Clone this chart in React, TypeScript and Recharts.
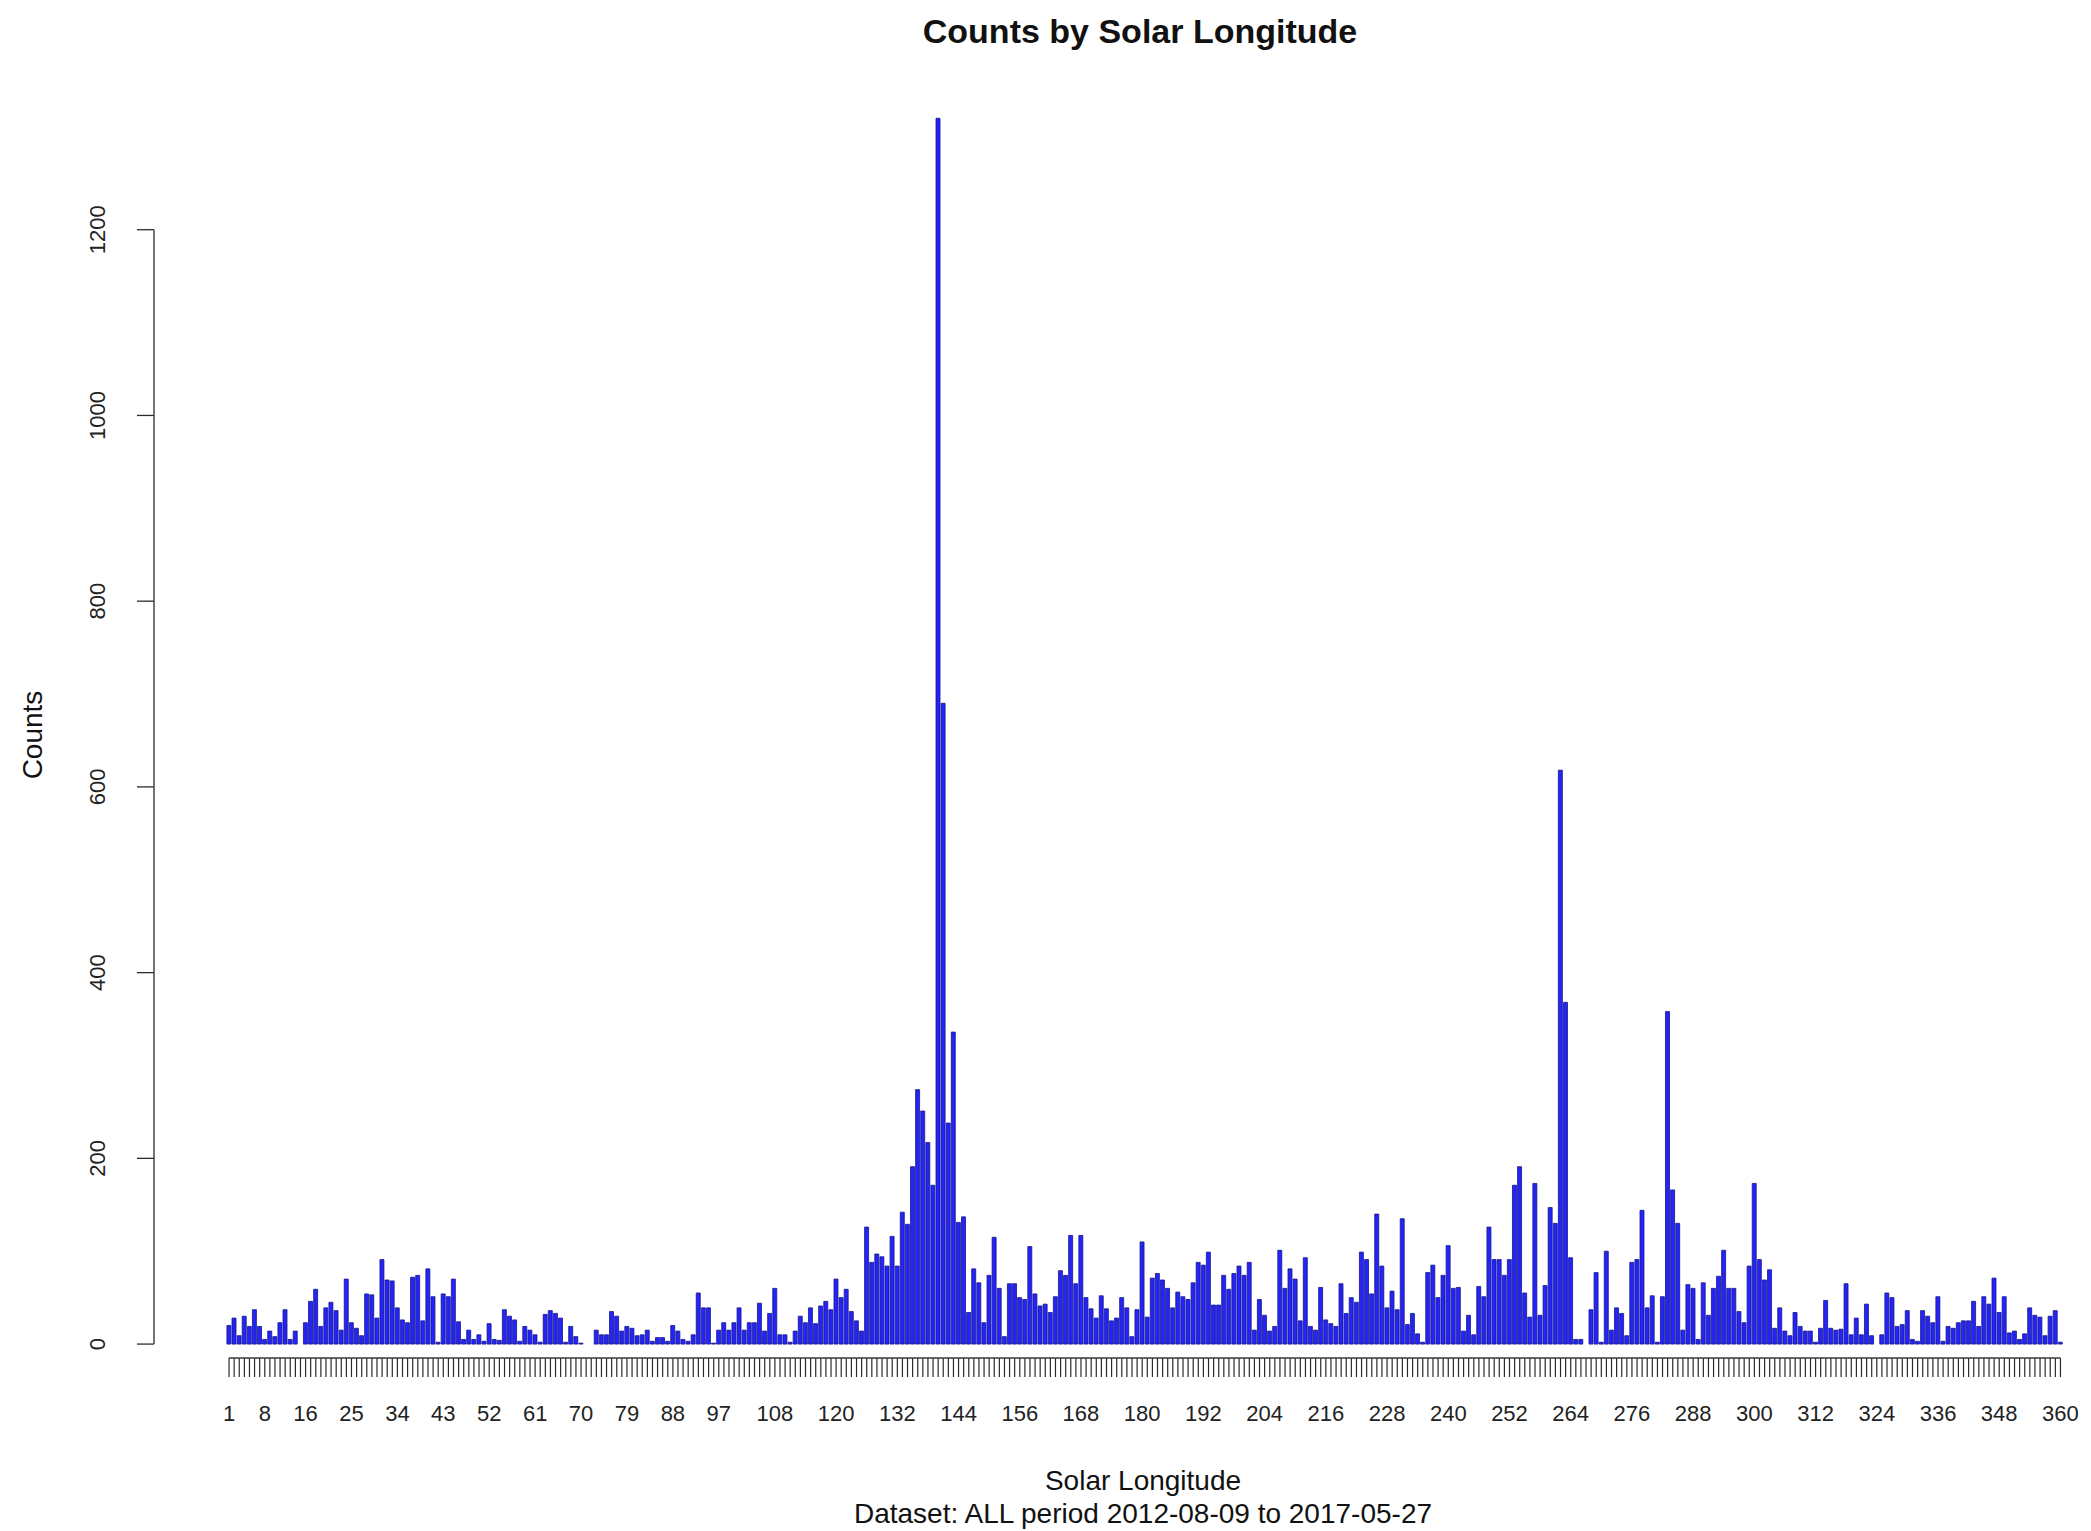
import React from 'react';
import { BarChart, Bar, XAxis, YAxis } from 'recharts';

// Counts per integer solar longitude (1..360)
const counts: number[] = [
  20, 28, 9, 30, 19, 37, 19, 5, 14, 8, 23, 37, 5, 14, 0, 23, 46, 59, 19, 39,
  45, 36, 15, 70, 23, 17, 9, 54, 53, 28, 91, 69, 68, 39, 26, 23, 72, 74, 25, 81,
  51, 2, 54, 51, 70, 24, 5, 15, 5, 10, 3, 22, 5, 4, 37, 30, 26, 3, 19, 15,
  10, 2, 32, 36, 33, 28, 2, 19, 8, 1, 0, 0, 15, 10, 10, 35, 30, 14, 19, 17,
  9, 10, 15, 3, 7, 7, 3, 20, 14, 5, 3, 10, 55, 39, 39, 1, 15, 23, 15, 23,
  39, 15, 23, 23, 44, 14, 33, 60, 10, 10, 2, 14, 30, 23, 39, 22, 41, 46, 37, 70,
  50, 59, 35, 25, 14, 126, 88, 97, 94, 84, 116, 84, 142, 129, 191, 274, 251, 217, 171, 1320,
  690, 238, 336, 131, 137, 34, 81, 66, 23, 74, 115, 60, 8, 65, 65, 50, 48, 105, 54, 41,
  43, 34, 51, 79, 74, 117, 65, 117, 50, 38, 28, 52, 38, 25, 28, 50, 39, 8, 37, 110,
  29, 71, 76, 69, 60, 39, 56, 51, 48, 66, 88, 85, 99, 42, 42, 74, 59, 76, 84, 74,
  88, 15, 48, 31, 14, 19, 101, 60, 81, 70, 25, 93, 19, 15, 61, 26, 22, 19, 65, 33,
  50, 45, 99, 91, 54, 140, 84, 39, 57, 37, 135, 21, 33, 11, 2, 77, 85, 50, 74, 106,
  60, 61, 14, 31, 10, 62, 51, 126, 91, 91, 74, 91, 171, 191, 55, 29, 173, 31, 63, 147,
  130, 618, 368, 93, 5, 5, 0, 37, 77, 2, 100, 15, 39, 33, 9, 88, 91, 144, 39, 52,
  2, 51, 358, 166, 130, 15, 64, 60, 5, 66, 31, 60, 73, 101, 60, 60, 35, 23, 84, 173,
  91, 69, 80, 17, 39, 14, 9, 34, 19, 14, 14, 2, 17, 47, 17, 15, 16, 65, 10, 28,
  10, 43, 9, 0, 10, 55, 50, 19, 21, 36, 5, 3, 36, 30, 23, 51, 3, 19, 17, 23,
  25, 25, 46, 19, 51, 43, 71, 34, 51, 12, 14, 5, 11, 39, 31, 29, 9, 30, 36, 2,
];

// Categories: solar longitude 1..360
const longitudes: number[] = counts.map((_, i) => i + 1);

// Category labels that are printed under the axis
const labeledTicks: number[] = [
  1, 8, 16, 25, 34, 43, 52, 61, 70, 79, 88, 97, 108, 120, 132, 144, 156, 168,
  180, 192, 204, 216, 228, 240, 252, 264, 276, 288, 300, 312, 324, 336, 348, 360,
];

const yTicks: number[] = [0, 200, 400, 600, 800, 1000, 1200];

const data = longitudes.map((lon, i) => ({ lon, count: counts[i] }));

// Layout
const W = 2091;
const H = 1531;
const M = { top: 109, right: 28, bottom: 113, left: 54 };
const Y_AXIS_W = 100;
const X_AXIS_H = 60;
const X_PAD_LEFT = 72.5;
const Y_DOMAIN: [number, number] = [-15, 1330];
const plotLeft = M.left + Y_AXIS_W;
const plotRight = W - M.right;
const plotTop = M.top;
const plotBottom = H - M.bottom - X_AXIS_H;
const band = (plotRight - plotLeft - X_PAD_LEFT) / longitudes.length;
const pxPerUnit = (plotBottom - plotTop) / (Y_DOMAIN[1] - Y_DOMAIN[0]);
const yStep = yTicks[1] - yTicks[0];

const FONT = '"Liberation Sans", Arial, Helvetica, sans-serif';
const AXIS_COLOR = '#2a2a2a';

function XTick(props: any) {
  const { x, y, payload, index } = props;
  const v = Number(payload.value);
  const last = index === longitudes.length - 1;
  return (
    <g>
      {!last && (
        <line x1={x} y1={y} x2={x + band} y2={y} stroke={AXIS_COLOR} strokeWidth={1.4} />
      )}
      <line x1={x} y1={y} x2={x} y2={y + 19} stroke={AXIS_COLOR} strokeWidth={1.2} />
      {labeledTicks.includes(v) && (
        <text
          x={x}
          y={y + 55}
          textAnchor="middle"
          dominantBaseline="central"
          fontSize={22}
          fill="#222"
          fontFamily={FONT}
        >
          {v}
        </text>
      )}
    </g>
  );
}

function YTick(props: any) {
  const { x, y, payload } = props;
  const v = Number(payload.value);
  const top = yTicks[yTicks.length - 1];
  return (
    <g>
      {v < top && (
        <line x1={x} y1={y} x2={x} y2={y - yStep * pxPerUnit} stroke={AXIS_COLOR} strokeWidth={1.3} />
      )}
      <line x1={x - 17} y1={y} x2={x} y2={y} stroke={AXIS_COLOR} strokeWidth={1.3} />
      <text
        transform={`translate(${x - 57},${y}) rotate(-90)`}
        textAnchor="middle"
        dominantBaseline="central"
        fontSize={22}
        fill="#222"
        fontFamily={FONT}
      >
        {v}
      </text>
    </g>
  );
}

const textBase: React.CSSProperties = {
  position: 'absolute',
  fontFamily: FONT,
  color: '#111',
  whiteSpace: 'nowrap',
};

export default function App() {
  return (
    <div style={{ position: 'absolute', left: 0, top: 0, width: W, height: H, background: '#fff' }}>
      <BarChart width={W} height={H} data={data} margin={M} barCategoryGap="8%">
        <XAxis
          dataKey="lon"
          type="category"
          interval={0}
          height={X_AXIS_H}
          padding={{ left: X_PAD_LEFT, right: 0 }}
          axisLine={false}
          tickLine={false}
          tickSize={0}
          tickMargin={0}
          tick={(p: any) => <XTick {...p} />}
        />
        <YAxis
          type="number"
          width={Y_AXIS_W}
          domain={Y_DOMAIN}
          allowDataOverflow
          ticks={yTicks}
          interval={0}
          axisLine={false}
          tickLine={false}
          tickSize={0}
          tickMargin={0}
          tick={(p: any) => <YTick {...p} />}
        />
        <Bar
          dataKey="count"
          fill="#2424f8"
          stroke="#15158c"
          strokeWidth={0.8}
          isAnimationActive={false}
        />
      </BarChart>
      <div
        style={{
          ...textBase,
          left: 1140,
          top: 14,
          transform: 'translateX(-50%)',
          fontSize: 34,
          lineHeight: '34px',
          fontWeight: 'bold',
        }}
      >
        Counts by Solar Longitude
      </div>
      <div
        style={{
          ...textBase,
          left: 1143,
          top: 1467,
          transform: 'translateX(-50%)',
          fontSize: 28,
          lineHeight: '28px',
        }}
      >
        Solar Longitude
      </div>
      <div
        style={{
          ...textBase,
          left: 1143,
          top: 1500,
          transform: 'translateX(-50%)',
          fontSize: 28,
          lineHeight: '28px',
        }}
      >
        Dataset: ALL period 2012-08-09 to 2017-05-27
      </div>
      <div
        style={{
          ...textBase,
          left: 33,
          top: 735,
          transform: 'translate(-50%, -50%) rotate(-90deg)',
          fontSize: 28,
          lineHeight: '28px',
        }}
      >
        Counts
      </div>
    </div>
  );
}
